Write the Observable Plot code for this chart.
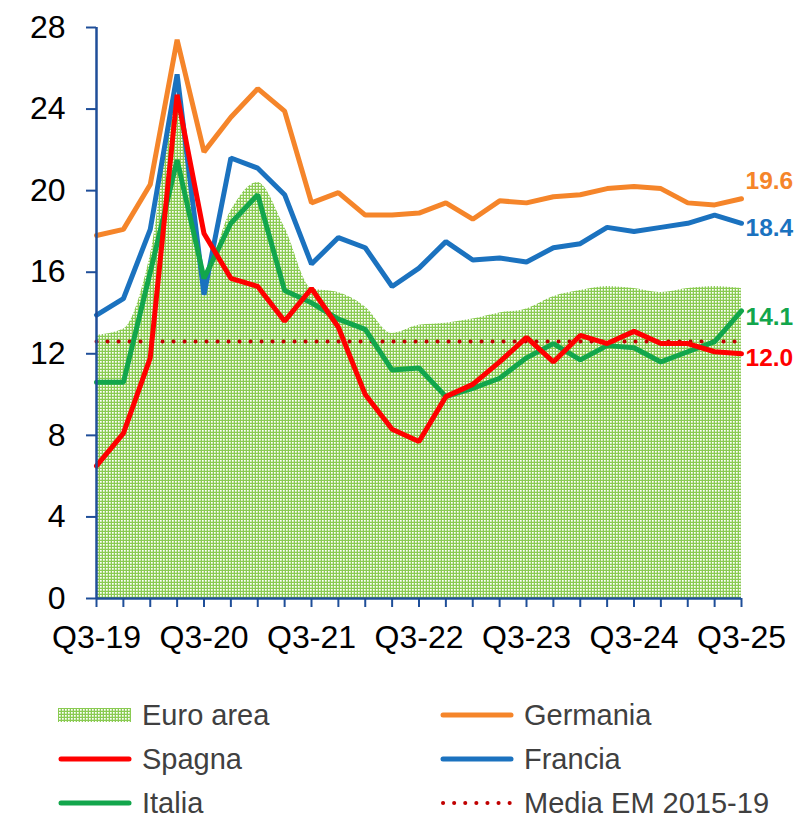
<!DOCTYPE html>
<html>
<head>
<meta charset="utf-8">
<script src="https://cdn.jsdelivr.net/npm/d3@7"></script>
<script src="https://cdn.jsdelivr.net/npm/@observablehq/plot@0.6"></script>
<style>
  body { margin: 0; background: #fff; font-family: "Liberation Sans", Arial, sans-serif; }
  #wrap { position: relative; width: 795px; height: 817px; }
  #legend { position: absolute; left: 0; top: 0; width: 795px; height: 817px; pointer-events: none; }
  .li { position: absolute; height: 40px; display: flex; align-items: center; font-size: 29px; color: #404040; }
  .li svg { margin-right: 10px; }
</style>
</head>
<body>
<div id="wrap"><div id="chart"></div><div id="legend"></div></div>
<script>
const quarters = ["Q3-19","Q4-19","Q1-20","Q2-20","Q3-20","Q4-20","Q1-21","Q2-21","Q3-21","Q4-21","Q1-22","Q2-22","Q3-22","Q4-22","Q1-23","Q2-23","Q3-23","Q4-23","Q1-24","Q2-24","Q3-24","Q4-24","Q1-25","Q2-25","Q3-25"];
const xTickLabels = ["Q3-19","Q3-20","Q3-21","Q3-22","Q3-23","Q3-24","Q3-25"];
const yTicks = [0,4,8,12,16,20,24,28];

const euroArea = [12.9,13.2,16.8,24.5,16.0,19.0,20.4,18.2,15.2,15.0,14.3,13.0,13.4,13.5,13.7,14.0,14.2,14.8,15.1,15.3,15.2,15.0,15.2,15.3,15.2];
const germania = [17.8,18.1,20.3,27.4,21.9,23.6,25.0,23.9,19.4,19.9,18.8,18.8,18.9,19.4,18.6,19.5,19.4,19.7,19.8,20.1,20.2,20.1,19.4,19.3,19.6];
const francia  = [13.9,14.7,18.1,25.7,14.9,21.6,21.1,19.8,16.4,17.7,17.2,15.3,16.2,17.5,16.6,16.7,16.5,17.2,17.4,18.2,18.0,18.2,18.4,18.8,18.4];
const italia   = [10.6,10.6,16.0,21.5,15.7,18.4,19.8,15.1,14.5,13.7,13.2,11.2,11.3,9.9,10.3,10.8,11.8,12.5,11.7,12.4,12.3,11.6,12.1,12.6,14.1];
const spagna   = [6.5,8.1,11.8,24.7,17.9,15.7,15.3,13.6,15.2,13.3,10.0,8.3,7.7,9.9,10.5,11.6,12.8,11.6,12.9,12.5,13.1,12.5,12.5,12.1,12.0];
const mediaEM = 12.6;

const seriesNames = ["Germania","Francia","Italia","Spagna"];
const seriesColors = {Germania: "#f5852a", Francia: "#1b72bf", Italia: "#12a64c", Spagna: "#ff0000"};
const endLabels = ["19.6","18.4","14.1","12.0"];
const endLabelDy = [-25, -3, -2, -3];

const series = {Germania: germania, Francia: francia, Italia: italia, Spagna: spagna};
const areaData = quarters.map((q, i) => ({q, v: euroArea[i]}));
const lineData = (name) => quarters.map((q, i) => ({q, v: series[name][i]}));
const emData = quarters.map(q => ({q, v: mediaEM}));
const endData = seriesNames.map((name, k) => ({q: quarters[quarters.length - 1], v: series[name][quarters.length - 1], label: endLabels[k], name}));

const axisColor = "#1f4e99";

const chart = Plot.plot({
  width: 795,
  height: 680,
  marginLeft: 96,
  marginRight: 54,
  marginTop: 27,
  marginBottom: 82,
  style: {fontFamily: "'Liberation Sans', Arial, sans-serif", fontSize: "32px", color: "#000", background: "#fff"},
  x: {type: "point", domain: quarters, padding: 0, round: false, label: null},
  y: {domain: [0, 28], label: null},
  marks: [
    Plot.areaY(areaData, {x: "q", y: "v", fill: "url(#euroDots)", curve: "monotone-x"}),
    Plot.lineY(emData, {x: "q", y: "v", stroke: "#c00000", strokeWidth: 4, strokeLinecap: "round", strokeDasharray: "0.1 10.9"}),
    ...seriesNames.map(name => Plot.lineY(lineData(name), {x: "q", y: "v", stroke: seriesColors[name], strokeWidth: 5, strokeLinejoin: "miter"})),
    Plot.ruleY([0], {stroke: axisColor, strokeWidth: 2.5}),
    Plot.ruleX([quarters[0]], {y1: 0, y2: 28, stroke: axisColor, strokeWidth: 2.5}),
    Plot.axisY({ticks: yTicks, tickSize: 10, tickPadding: 21, stroke: axisColor, strokeWidth: 2, fill: "#000", fontSize: 32}),
    Plot.axisX({ticks: quarters, tickSize: 9, tickPadding: 18, stroke: axisColor, strokeWidth: 2, fill: "#000", fontSize: 32,
      tickFormat: d => xTickLabels.includes(d) ? d : ""}),
    Plot.text(endData, {x: "q", y: "v", text: "label", dx: 4, textAnchor: "start",
      fill: d => seriesColors[d.name], fontSize: 24.5, fontWeight: "bold"})
  ]
});

document.getElementById("chart").appendChild(chart);

const ns = "http://www.w3.org/2000/svg";
function addPattern(svg, id) {
  const defs = document.createElementNS(ns, "defs");
  const pat = document.createElementNS(ns, "pattern");
  pat.setAttribute("id", id);
  pat.setAttribute("width", "3");
  pat.setAttribute("height", "3");
  pat.setAttribute("patternUnits", "userSpaceOnUse");
  const bg = document.createElementNS(ns, "rect");
  bg.setAttribute("width", "3"); bg.setAttribute("height", "3"); bg.setAttribute("fill", "#8acb52");
  const dot = document.createElementNS(ns, "rect");
  dot.setAttribute("x", "1"); dot.setAttribute("y", "1");
  dot.setAttribute("width", "1.7"); dot.setAttribute("height", "1.7"); dot.setAttribute("fill", "#ffffff");
  pat.appendChild(bg); pat.appendChild(dot);
  defs.appendChild(pat);
  svg.insertBefore(defs, svg.firstChild);
}
addPattern(chart, "euroDots");

// per-label vertical offsets for the end labels
const endTexts = chart.querySelectorAll("g[aria-label='text'] text");
endTexts.forEach((t, k) => {
  if (k < endLabelDy.length) t.setAttribute("dy", (endLabelDy[k] / 24.5 + 0.32) + "em");
});

// legend
const legendItems = [
  {label: "Euro area", type: "area", left: 58, top: 695},
  {label: "Germania", type: "line", color: seriesColors.Germania, left: 440, top: 695},
  {label: "Spagna", type: "line", color: seriesColors.Spagna, left: 58, top: 739},
  {label: "Francia", type: "line", color: seriesColors.Francia, left: 440, top: 739},
  {label: "Italia", type: "line", color: seriesColors.Italia, left: 58, top: 783},
  {label: "Media EM 2015-19", type: "dots", color: "#c00000", left: 440, top: 783}
];
const legend = document.getElementById("legend");
legendItems.forEach(it => {
  const div = document.createElement("div");
  div.className = "li";
  div.style.left = it.left + "px";
  div.style.top = it.top + "px";
  const sw = document.createElementNS(ns, "svg");
  sw.setAttribute("width", "74"); sw.setAttribute("height", "20");
  if (it.type === "area") {
    addPattern(sw, "legDots");
    const r = document.createElementNS(ns, "rect");
    r.setAttribute("x", "0"); r.setAttribute("y", "3"); r.setAttribute("width", "73"); r.setAttribute("height", "14");
    r.setAttribute("fill", "url(#legDots)");
    sw.appendChild(r);
  } else {
    const l = document.createElementNS(ns, "line");
    l.setAttribute("x1", "3"); l.setAttribute("x2", "71"); l.setAttribute("y1", "10"); l.setAttribute("y2", "10");
    l.setAttribute("stroke", it.color);
    l.setAttribute("stroke-linecap", "round");
    if (it.type === "dots") { l.setAttribute("stroke-width", "4"); l.setAttribute("stroke-dasharray", "0.1 11"); }
    else l.setAttribute("stroke-width", "5");
    sw.appendChild(l);
  }
  div.appendChild(sw);
  const span = document.createElement("span");
  span.textContent = it.label;
  div.appendChild(span);
  legend.appendChild(div);
});
</script>
</body>
</html>
